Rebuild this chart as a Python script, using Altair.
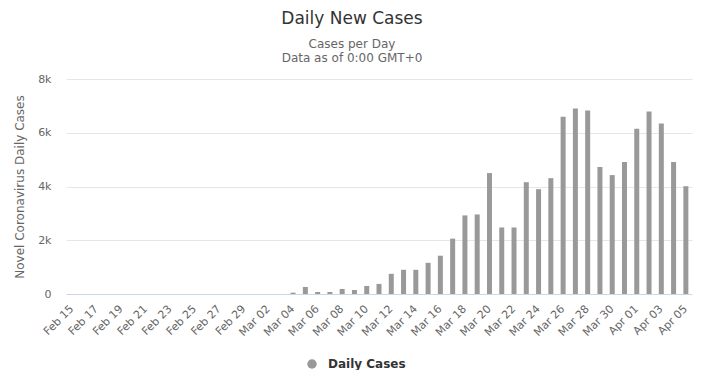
import altair as alt
import pandas as pd

dates = [
    "Feb 15", "Feb 16", "Feb 17", "Feb 18", "Feb 19", "Feb 20", "Feb 21", "Feb 22",
    "Feb 23", "Feb 24", "Feb 25", "Feb 26", "Feb 27", "Feb 28", "Feb 29",
    "Mar 01", "Mar 02", "Mar 03", "Mar 04", "Mar 05", "Mar 06", "Mar 07", "Mar 08",
    "Mar 09", "Mar 10", "Mar 11", "Mar 12", "Mar 13", "Mar 14", "Mar 15", "Mar 16",
    "Mar 17", "Mar 18", "Mar 19", "Mar 20", "Mar 21", "Mar 22", "Mar 23", "Mar 24",
    "Mar 25", "Mar 26", "Mar 27", "Mar 28", "Mar 29", "Mar 30", "Mar 31",
    "Apr 01", "Apr 02", "Apr 03", "Apr 04", "Apr 05",
]
daily_cases = [
    0, 0, 0, 0, 0, 0, 0, 0,
    0, 0, 0, 0, 0, 0, 0,
    0, 0, 0, 50, 260, 75, 75, 188,
    150, 300, 375, 750, 900, 900, 1160, 1425,
    2060, 2925, 2960, 4500, 2475, 2475, 4160, 3900,
    4310, 6600, 6900, 6825, 4725, 4425, 4910,
    6150, 6790, 6340, 4910, 4010,
]
tick_labels = dates[::2]
y_ticks = [0, 2000, 4000, 6000, 8000]

df = pd.DataFrame({"date": dates, "cases": daily_cases, "series": "Daily Cases"})

FONT = "DejaVu Sans"

chart = (
    alt.Chart(df)
    .mark_bar(size=5, color="#999999")
    .encode(
        x=alt.X(
            "date:N",
            sort=dates,
            scale=alt.Scale(paddingInner=0.59, paddingOuter=0.295),
            axis=alt.Axis(
                title=None,
                values=tick_labels,
                labelAngle=-45,
                labelAlign="right",
                labelBaseline="middle",
                labelColor="#666666",
                labelFontSize=11,
                labelFont=FONT,
                labelPadding=13,
                ticks=False,
                domainColor="#ccd6eb",
                grid=False,
                labelOverlap=False,
            ),
        ),
        y=alt.Y(
            "cases:Q",
            scale=alt.Scale(domain=[0, 8000], nice=False),
            axis=alt.Axis(
                title="Novel Coronavirus Daily Cases",
                values=y_ticks,
                labelExpr="datum.value == 0 ? '0' : (datum.value / 1000) + 'k'",
                labelColor="#666666",
                labelFontSize=11,
                labelFont=FONT,
                labelPadding=15,
                ticks=False,
                domain=False,
                gridColor="#e6e6e6",
                titleColor="#666666",
                titleFontSize=12,
                titleFont=FONT,
                titleFontWeight="normal",
                titlePadding=11,
            ),
        ),
        color=alt.Color(
            "series:N",
            scale=alt.Scale(domain=["Daily Cases"], range=["#999999"]),
            legend=alt.Legend(
                title=None,
                orient="none",
                legendX=240,
                legendY=279,
                symbolType="circle",
                symbolSize=90,
                symbolStrokeWidth=0,
                labelFont=FONT,
                labelFontSize=12,
                labelFontWeight="bold",
                labelColor="#333333",
                labelOffset=10,
                padding=0,
            ),
        ),
    )
    .properties(
        width=626,
        height=215,
        autosize=alt.AutoSizeParams(type="none"),
        padding={"left": 58, "top": 71, "right": 4, "bottom": 76},
        title=alt.TitleParams(
            text="Daily New Cases",
            subtitle=["Cases per Day", "Data as of 0:00 GMT+0"],
            anchor="middle",
            dx=-27,
            font=FONT,
            fontSize=17,
            fontWeight="normal",
            color="#333333",
            subtitleFont=FONT,
            subtitleFontSize=12,
            subtitleColor="#666666",
            subtitleLineHeight=14.5,
            subtitlePadding=11,
            offset=8,
        ),
    )
    .configure_view(stroke=None)
)

chart.save("out.html", embed_options={"renderer": "svg", "actions": False})
